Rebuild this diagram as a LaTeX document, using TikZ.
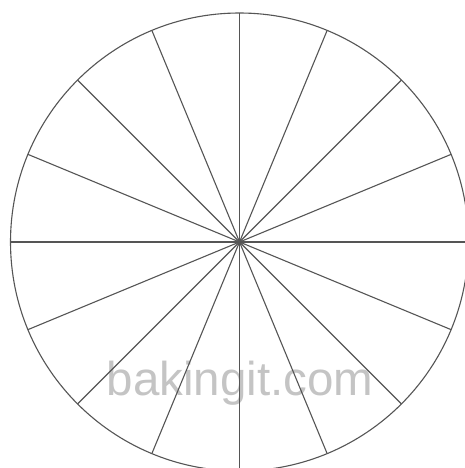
\documentclass[tikz,border=0pt]{standalone}
\usepackage{fontspec}
\setmainfont{Liberation Sans}
\usetikzlibrary{calc}
\definecolor{spoke}{HTML}{555555}
\definecolor{mark}{HTML}{C4C4C4}
\tikzset{spokeline/.style={draw=spoke,line width=1.1pt}}
\begin{document}
\begin{tikzpicture}[x=1pt,y=-1pt]
\useasboundingbox (0,0) rectangle (465,468);
\clip (0,0) rectangle (465,468);
\fill[white] (0,0) rectangle (465,468);
\coordinate (c) at (239.5,242);
\node[text=mark,font=\fontsize{47.5}{50}\selectfont,anchor=base] (wm) at (240,395) {bakingit.com};
\foreach \i in {0,...,15}{
  \coordinate (p\i) at ($(c)+(\i*22.5:229)$);
  \draw[spokeline] (c) -- (p\i);
}
\draw[spokeline] (c) circle[radius=229];
\end{tikzpicture}
\end{document}
